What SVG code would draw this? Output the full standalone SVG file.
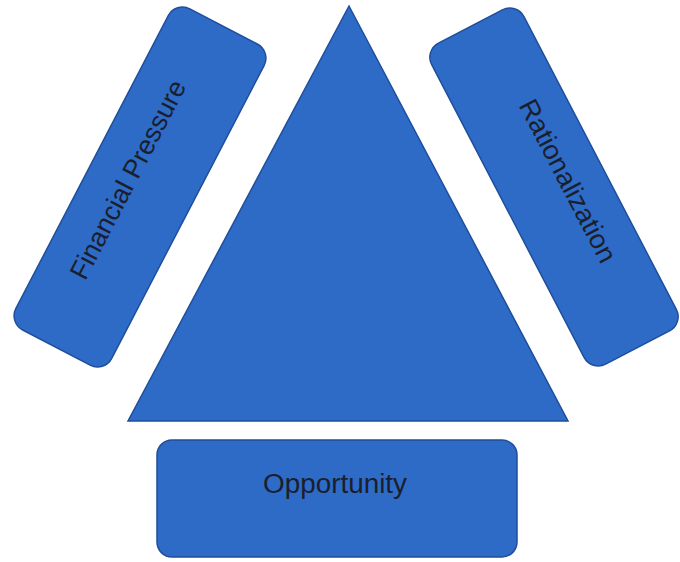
<svg xmlns="http://www.w3.org/2000/svg" width="680" height="562" viewBox="0 0 680 562">
  <style>
    .shape { fill: #2d6bc7; stroke: #1f4e9c; stroke-width: 1.5; }
    .label { font-family: "Liberation Sans", Arial, sans-serif; font-size: 27px; fill: #1b1e2c; text-anchor: middle; }
  </style>
  <rect x="0" y="0" width="680" height="562" fill="#ffffff"/>

  <!-- central triangle -->
  <g id="triangle">
    <polygon class="shape" points="349,6 128,421 568,421"/>
  </g>

  <!-- left bar -->
  <g id="financial-pressure" transform="translate(140,187) rotate(27.5)">
    <rect class="shape" x="-54" y="-181" width="108" height="362" rx="16"/>
    <text class="label" transform="translate(-5,-1) rotate(-90)" textLength="220" lengthAdjust="spacingAndGlyphs">Financial Pressure</text>
  </g>

  <!-- right bar -->
  <g id="rationalization" transform="translate(554,187) rotate(-27.5)">
    <rect class="shape" x="-52" y="-181" width="104" height="362" rx="16"/>
    <text class="label" transform="translate(6,1) rotate(90)" textLength="180" lengthAdjust="spacingAndGlyphs">Rationalization</text>
  </g>

  <!-- bottom bar -->
  <g id="opportunity">
    <rect class="shape" x="157" y="440" width="360" height="117" rx="15"/>
    <text class="label" x="335" y="493" textLength="144" lengthAdjust="spacingAndGlyphs">Opportunity</text>
  </g>

  <g id="connectors"/>
</svg>
